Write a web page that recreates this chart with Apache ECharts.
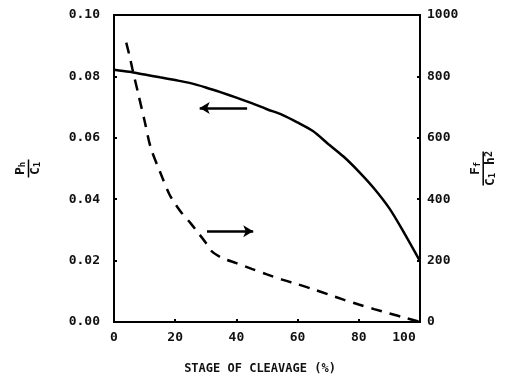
<!DOCTYPE html>
<html>
<head>
<meta charset="utf-8">
<script src="https://cdn.jsdelivr.net/npm/echarts@6/dist/echarts.min.js"></script>
<style>html,body{margin:0;padding:0;background:#fff}#c{width:510px;height:378px}</style>
</head>
<body>
<div id="c"></div>
<script>
// Stage of cleavage (%) and values
const solidStage = [0, 5, 10, 15, 20, 25, 30, 35, 40, 45, 50, 55, 60, 65, 70, 75, 80, 85, 90, 95, 100];
const solidPh = [0.0822, 0.0815, 0.0806, 0.0797, 0.0788, 0.0778, 0.0764, 0.0748, 0.0731, 0.0713, 0.0693, 0.0675, 0.0650, 0.0622, 0.0580, 0.0539, 0.0490, 0.0435, 0.0370, 0.0287, 0.0198];
const dashStage = [4, 5, 6, 8, 10, 12, 15, 18, 20, 22, 25, 27, 30, 32, 35, 37, 40, 45, 50, 55, 60, 65, 70, 75, 80, 85, 90, 95, 100];
const dashFf = [910, 870, 825, 740, 655, 568, 490, 418, 385, 357, 322, 297, 258, 230, 210, 202, 192, 173, 155, 138, 123, 107, 90, 73, 57, 42, 28, 14, 0];
const xTicks = [0, 20, 40, 60, 80, 100];
const leftTicks = [0, 0.02, 0.04, 0.06, 0.08, 0.10];
const rightTicks = [0, 200, 400, 600, 800, 1000];
// arrow annotations (data coordinates)
const leftArrow = {from: [43.5, 0.0697], to: [28, 0.0697]};
const rightArrow = {from: [30.4, 296], to: [45.5, 296]};

const FONT = '"DejaVu Sans Mono", "Liberation Mono", monospace';
const pair = (xs, ys) => xs.map((x, i) => [x, ys[i]]);

const chart = echarts.init(document.getElementById('c'), null, {renderer: 'canvas'});
chart.setOption({
  animation: false,
  backgroundColor: '#fff',
  grid: {left: 114, right: 90, top: 15, bottom: 56, show: true, borderColor: '#000', borderWidth: 2, containLabel: false, outerBoundsMode: 'none'},
  xAxis: {
    type: 'value', min: 0, max: 100, interval: 20,
    axisLine: {show: true, lineStyle: {color: '#000', width: 2}},
    axisTick: {show: true, inside: true, length: 3, lineStyle: {color: '#000', width: 2}},
    splitLine: {show: false},
    axisLabel: {
      margin: 9, color: '#111', fontFamily: FONT, fontSize: 13, fontWeight: 'bold',
      formatter: v => v === 100 ? '{r|100}' : String(v),
      rich: {r: {padding: [0, 32, 0, 0], fontFamily: FONT, fontSize: 13, fontWeight: 'bold', color: '#111'}}
    },
    name: 'STAGE OF CLEAVAGE (%)', nameLocation: 'middle', nameGap: 41,
    nameTextStyle: {fontFamily: FONT, fontSize: 12, fontWeight: 'bold', color: '#111', padding: [0, 14, 0, 0]}
  },
  yAxis: [{
    type: 'value', min: 0, max: 0.10, interval: 0.02, position: 'left',
    axisLine: {show: true, lineStyle: {color: '#000', width: 2}},
    axisTick: {show: true, inside: true, length: 3, lineStyle: {color: '#000', width: 2}},
    splitLine: {show: false},
    axisLabel: {margin: 14, color: '#111', fontFamily: FONT, fontSize: 13, fontWeight: 'bold', formatter: v => v.toFixed(2)},
    name: '{a|P}{s|h}\n{bar|}\n{a|C}{s|1}',
    nameLocation: 'middle', nameRotate: 90, nameGap: 72,
    nameTextStyle: {
      align: 'center',
      rich: {
        a: {fontFamily: FONT, fontSize: 13, fontWeight: 'bold', color: '#111', lineHeight: 12},
        s: {fontFamily: FONT, fontSize: 9, fontWeight: 'bold', color: '#111', lineHeight: 12, verticalAlign: 'bottom'},
        bar: {width: 18, height: 1.5, backgroundColor: '#000', lineHeight: 3}
      }
    }
  }, {
    type: 'value', min: 0, max: 1000, interval: 200, position: 'right',
    axisLine: {show: true, lineStyle: {color: '#000', width: 2}},
    axisTick: {show: true, inside: true, length: 3, lineStyle: {color: '#000', width: 2}},
    splitLine: {show: false},
    axisLabel: {margin: 7, color: '#111', fontFamily: FONT, fontSize: 13, fontWeight: 'bold', formatter: v => String(v)},
    name: '{a|F}{s|f}\n{bar|}\n{a|C}{s|1}{a| h}{p|2}',
    nameLocation: 'middle', nameRotate: 90, nameGap: 48,
    nameTextStyle: {
      align: 'center',
      rich: {
        a: {fontFamily: FONT, fontSize: 13, fontWeight: 'bold', color: '#111', lineHeight: 12},
        s: {fontFamily: FONT, fontSize: 9, fontWeight: 'bold', color: '#111', lineHeight: 12, verticalAlign: 'bottom'},
        p: {fontFamily: FONT, fontSize: 10, fontWeight: 'bold', color: '#111', lineHeight: 12, verticalAlign: 'top'},
        bar: {width: 34, height: 1.5, backgroundColor: '#000', lineHeight: 3}
      }
    }
  }],
  series: [{
    name: 'Ph/C1', type: 'line', yAxisIndex: 0, data: pair(solidStage, solidPh),
    smooth: 0.3, showSymbol: false, lineStyle: {color: '#000', width: 2.5},
    markLine: {
      silent: true, symbol: ['none', 'arrow'], symbolSize: [9, 10],
      label: {show: false}, lineStyle: {color: '#000', width: 2.5, type: 'solid'},
      data: [[{coord: leftArrow.from}, {coord: leftArrow.to}]]
    }
  }, {
    name: 'Ff/(C1h2)', type: 'line', yAxisIndex: 1, data: pair(dashStage, dashFf),
    smooth: 0.3, showSymbol: false, lineStyle: {color: '#000', width: 2.5, type: [11, 8]},
    markLine: {
      silent: true, symbol: ['none', 'arrow'], symbolSize: [9, 10],
      label: {show: false}, lineStyle: {color: '#000', width: 2.5, type: 'solid'},
      data: [[{coord: rightArrow.from}, {coord: rightArrow.to}]]
    }
  }]
});
</script>
</body>
</html>
